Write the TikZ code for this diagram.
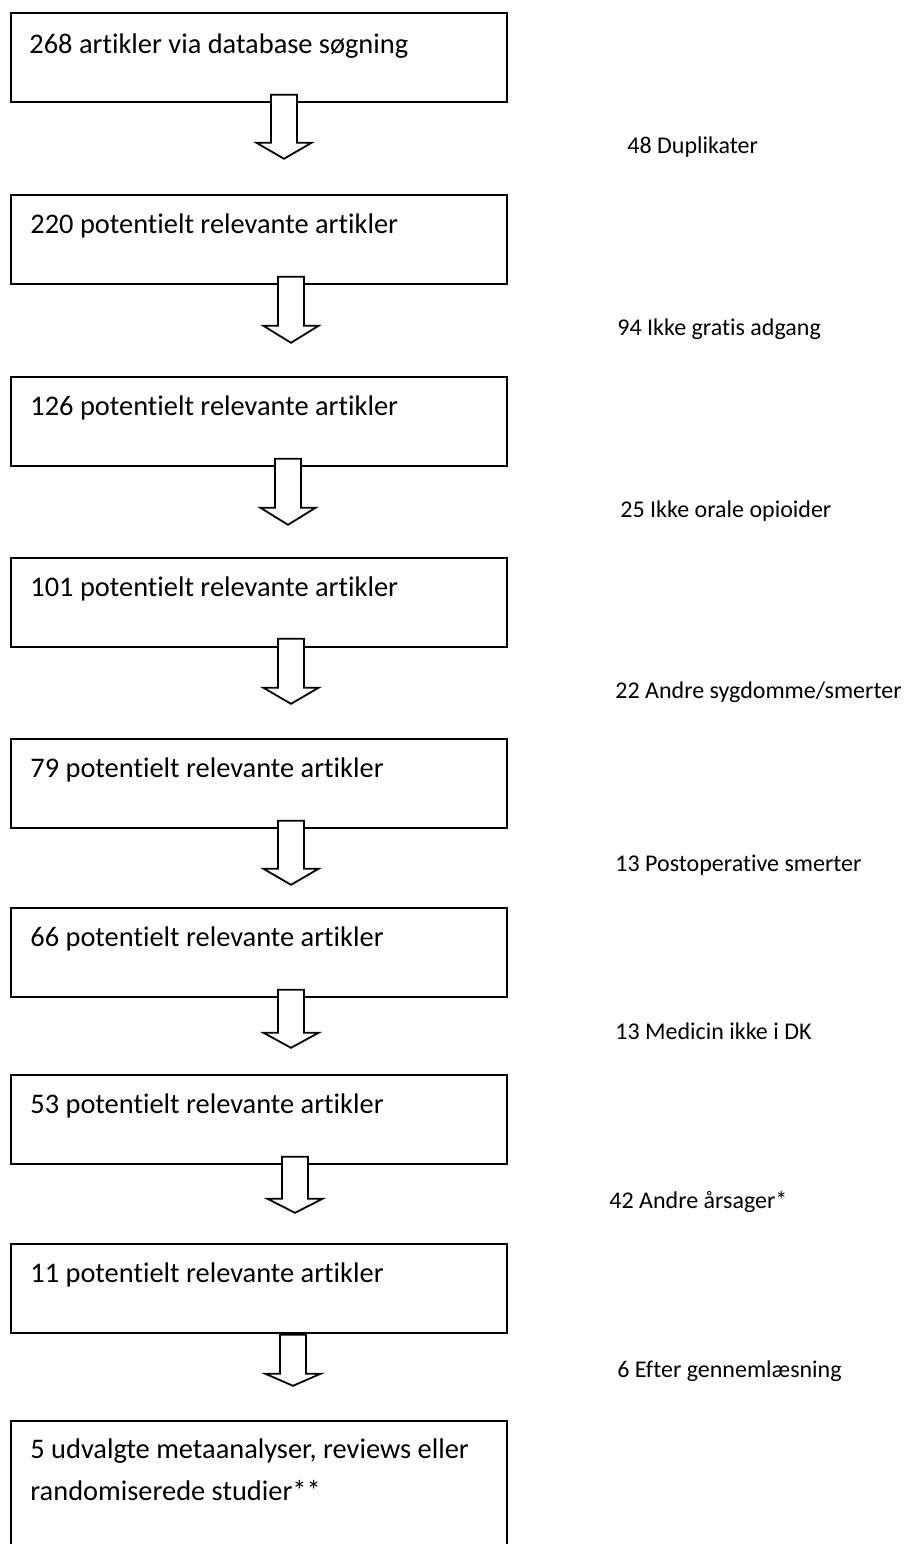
\documentclass[tikz,border=0pt]{standalone}
\usepackage{fontspec}
\setmainfont{Carlito}[Ligatures={NoCommon}]
\usetikzlibrary{calc,positioning}

\begin{document}
\begin{tikzpicture}[
    x=0.5pt,
    y=-0.5pt,
    box/.style={draw, line width=0.9pt, minimum width=248pt, minimum height=44.5pt, anchor=north west, inner sep=0pt},
    boxtxt/.style={anchor=base west, inner sep=0pt, font=\fontsize{14.2}{21}\selectfont},
    side/.style={anchor=base west, inner sep=0pt, font=\fontsize{12}{14}\selectfont},
    hollow/.style={draw, fill=white, line width=0.9pt, line join=miter}
  ]
    \useasboundingbox (0,0) rectangle (906,1544);
    \node[box] (b1) at (10,12) {};
    \node[box] (b2) at (10,194) {};
    \node[box] (b3) at (10,376) {};
    \node[box] (b4) at (10,557) {};
    \node[box] (b5) at (10,738) {};
    \node[box] (b6) at (10,907) {};
    \node[box] (b7) at (10,1074) {};
    \node[box] (b8) at (10,1243) {};
    \node[box, minimum height=70pt] (b9) at (10,1420) {};
    \foreach \a/\cx/\t/\hb/\tp in {b1/284/-8/40/56, b2/291/-8/41/58, b3/288/-8/41/58,
      b4/291/-9/40/56, b5/291/-8/40/56, b6/291/-8/35/50, b7/295/-8/34/48, b8/293/1/40/52} {
      \coordinate (m) at ($(\a.south west)+(\cx-10,0)$);
      \draw[hollow] ($(m)+(-13,\t)$) -- ($(m)+(13,\t)$) -- ($(m)+(13,\hb)$)
        -- ($(m)+(27.5,\hb)$) -- ($(m)+(0,\tp)$) -- ($(m)+(-27.5,\hb)$)
        -- ($(m)+(-13,\hb)$) -- cycle;
    }
    \node[boxtxt] (t1) at ($(b1.north west)+(19,41)$) {268 artikler via database søgning};
    \node[boxtxt] (t2) at ($(b2.north west)+(20,39)$) {220 potentielt relevante artikler};
    \node[boxtxt] (t3) at ($(b3.north west)+(20,39)$) {126 potentielt relevante artikler};
    \node[boxtxt] (t4) at ($(b4.north west)+(20,39)$) {101 potentielt relevante artikler};
    \node[boxtxt] (t5) at ($(b5.north west)+(20,39)$) {79 potentielt relevante artikler};
    \node[boxtxt] (t6) at ($(b6.north west)+(20,39)$) {66 potentielt relevante artikler};
    \node[boxtxt] (t7) at ($(b7.north west)+(20,39)$) {53 potentielt relevante artikler};
    \node[boxtxt] (t8) at ($(b8.north west)+(20,39)$) {11 potentielt relevante artikler};
    \node[boxtxt, align=left] (t9) at ($(b9.north west)+(20,80)$) {5 udvalgte metaanalyser, reviews eller\\randomiserede studier**};
    \node[side] (s1) at (627,153) {48 Duplikater};
    \node[side] (s2) at (617,335) {94 Ikke gratis adgang};
    \node[side] (s3) at (620,517) {25 Ikke orale opioider};
    \node[side] (s4) at (615,698) {22 Andre sygdomme/smerter};
    \node[side] (s5) at (615,871) {13 Postoperative smerter};
    \node[side] (s6) at (615,1039) {13 Medicin ikke i DK};
    \node[side] (s7) at (609,1208) {42 Andre årsager*};
    \node[side] (s8) at (617,1377) {6 Efter gennemlæsning};
  \end{tikzpicture}
\end{document}
